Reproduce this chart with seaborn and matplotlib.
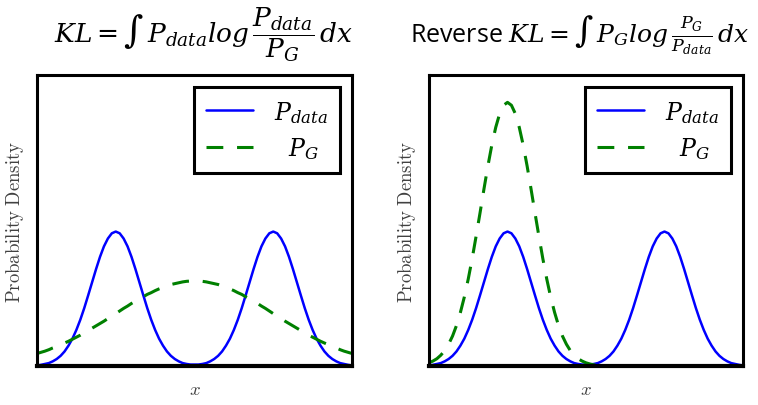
import matplotlib
matplotlib.use("Agg")
import matplotlib.pyplot as plt
import seaborn as sns

# x positions (unitless, ticks hidden)
x_vals = [0.0, 0.0125, 0.025, 0.0375, 0.05, 0.0625, 0.075, 0.0875, 0.1, 0.1125,
          0.125, 0.1375, 0.15, 0.1625, 0.175, 0.1875, 0.2, 0.2125, 0.225, 0.2375,
          0.25, 0.2625, 0.275, 0.2875, 0.3, 0.3125, 0.325, 0.3375, 0.35, 0.3625,
          0.375, 0.3875, 0.4, 0.4125, 0.425, 0.4375, 0.45, 0.4625, 0.475, 0.4875,
          0.5, 0.5125, 0.525, 0.5375, 0.55, 0.5625, 0.575, 0.5875, 0.6, 0.6125,
          0.625, 0.6375, 0.65, 0.6625, 0.675, 0.6875, 0.7, 0.7125, 0.725, 0.7375,
          0.75, 0.7625, 0.775, 0.7875, 0.8, 0.8125, 0.825, 0.8375, 0.85, 0.8625,
          0.875, 0.8875, 0.9, 0.9125, 0.925, 0.9375, 0.95, 0.9625, 0.975, 0.9875,
          1.0]

# bimodal data density (same in both panels)
p_data = [0.002, 0.004, 0.007, 0.010, 0.016, 0.024, 0.035, 0.050, 0.070, 0.094,
          0.124, 0.159, 0.199, 0.243, 0.288, 0.333, 0.375, 0.411, 0.438, 0.456,
          0.462, 0.456, 0.438, 0.411, 0.375, 0.333, 0.288, 0.243, 0.199, 0.159,
          0.124, 0.094, 0.070, 0.050, 0.035, 0.024, 0.016, 0.010, 0.007, 0.005,
          0.005, 0.005, 0.007, 0.010, 0.016, 0.024, 0.035, 0.050, 0.070, 0.094,
          0.124, 0.159, 0.199, 0.243, 0.288, 0.333, 0.375, 0.411, 0.438, 0.456,
          0.462, 0.456, 0.438, 0.411, 0.375, 0.333, 0.288, 0.243, 0.199, 0.159,
          0.124, 0.094, 0.070, 0.050, 0.035, 0.024, 0.016, 0.010, 0.007, 0.004,
          0.002]

# wide model density (KL panel)
p_g_kl = [0.043, 0.047, 0.051, 0.056, 0.062, 0.067, 0.073, 0.079, 0.085, 0.092,
          0.099, 0.106, 0.114, 0.122, 0.130, 0.138, 0.146, 0.154, 0.163, 0.172,
          0.180, 0.189, 0.198, 0.206, 0.215, 0.223, 0.231, 0.238, 0.246, 0.252,
          0.259, 0.265, 0.270, 0.275, 0.280, 0.283, 0.286, 0.289, 0.291, 0.292,
          0.292, 0.292, 0.291, 0.289, 0.286, 0.283, 0.280, 0.275, 0.270, 0.265,
          0.259, 0.252, 0.246, 0.238, 0.231, 0.223, 0.215, 0.206, 0.198, 0.189,
          0.180, 0.172, 0.163, 0.154, 0.146, 0.138, 0.130, 0.122, 0.114, 0.106,
          0.099, 0.092, 0.085, 0.079, 0.073, 0.067, 0.062, 0.056, 0.051, 0.047,
          0.043]

# narrow model density on the left mode (reverse KL panel)
p_g_rkl = [0.011, 0.017, 0.025, 0.037, 0.053, 0.075, 0.103, 0.139, 0.184, 0.237,
           0.299, 0.369, 0.446, 0.526, 0.608, 0.687, 0.759, 0.820, 0.867, 0.896,
           0.906, 0.896, 0.867, 0.820, 0.759, 0.687, 0.608, 0.526, 0.446, 0.369,
           0.299, 0.237, 0.184, 0.139, 0.103, 0.075, 0.053, 0.037, 0.025, 0.017,
           0.011, 0.007, 0.004, 0.003, 0.002, 0.001, 0.0, 0.0, 0.0, 0.0,
           0.0, 0.0, 0.0, 0.0, 0.0, 0.0, 0.0, 0.0, 0.0, 0.0,
           0.0, 0.0, 0.0, 0.0, 0.0, 0.0, 0.0, 0.0, 0.0, 0.0,
           0.0, 0.0, 0.0, 0.0, 0.0, 0.0, 0.0, 0.0, 0.0, 0.0,
           0.0]

titles = [r"$KL = \int\, P_{data} log\,\dfrac{P_{data}}{P_G}\,dx$",
          r"Reverse $KL = \int\, P_G log\,\frac{P_G}{P_{data}}\,dx$"]
label_data = r"$P_{data}$"
label_g = r"$\ \ P_G$"

sns.set_style("white")
plt.rcParams["font.family"] = ["Open Sans", "DejaVu Sans"]

fig = plt.figure(figsize=(7.58, 4.06), dpi=100)
ax1 = fig.add_axes([37 / 758, 39 / 406, 315 / 758, 291 / 406])
ax2 = fig.add_axes([429 / 758, 39 / 406, 314 / 758, 291 / 406])

panels = [(ax1, p_g_kl, titles[0], 203, 19), (ax2, p_g_rkl, titles[1], 580, 18)]
for ax, pg, title, tx, tsize in panels:
    sns.lineplot(x=x_vals, y=p_data, ax=ax, color="#0000ff", lw=1.8,
                 label=label_data)
    sns.lineplot(x=x_vals, y=pg, ax=ax, color="#008000", lw=2.2,
                 linestyle=(0, (5.5, 4.5)), label=label_g)
    ax.set_xlim(0, 1)
    ax.set_ylim(0, 1)
    ax.set_xticks([])
    ax.set_yticks([])
    for side, sp in ax.spines.items():
        sp.set_visible(True)
        sp.set_color("black")
        sp.set_linewidth(3.0 if side == "bottom" else 2.2)
    ax.set_ylabel(r"$\mathrm{Probability\ Density}$", fontsize=13.5,
                  color="#404040", labelpad=8, math_fontfamily="cm")
    ax.set_xlabel(r"$x$", fontsize=13.5, color="#404040", labelpad=10,
                  math_fontfamily="cm")
    leg = ax.legend(loc="upper right", bbox_to_anchor=(0.962, 0.959),
                    borderaxespad=0, frameon=True, fancybox=False,
                    edgecolor="black", framealpha=1, fontsize=17,
                    handlelength=2.0, handletextpad=0.9, borderpad=0.5,
                    labelspacing=0.45)
    leg.get_frame().set_linewidth(2.2)
    for t in leg.get_texts():
        t.set_math_fontfamily("dejavuserif")
        t.set_color("black")
    fig.text(tx / 758, 1 - 35 / 406, title, ha="center", va="center",
             fontsize=tsize, color="black", math_fontfamily="dejavuserif")

fig.savefig("out.png", dpi=100)
